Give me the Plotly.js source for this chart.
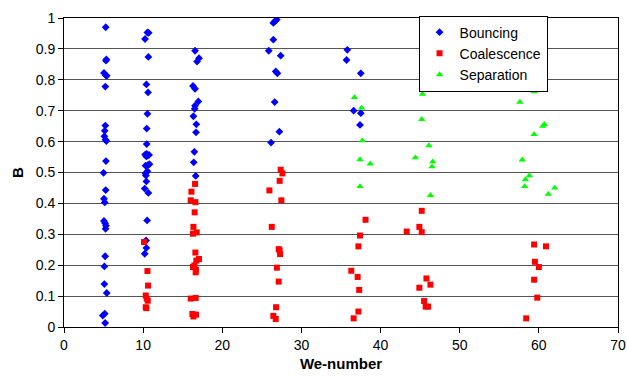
<!DOCTYPE html>
<html>
<head>
<meta charset="utf-8">
<script src="https://cdn.plot.ly/plotly-3.0.1.min.js"></script>
<style>
html,body{margin:0;padding:0;background:#fff;}
#chart{width:627px;height:381px;}
</style>
</head>
<body>
<div id="chart"></div>
<script>
// Bouncing
const bouncingWe = [
  5.27,5.35,5.30,5.05,5.27,5.40,5.22,5.22,5.15,5.10,5.25,5.35,5.30,5.00,5.27,5.05,5.15,5.05,5.20,5.30,5.25,5.20,5.10,5.10,5.40,4.90,5.15,5.20,
  10.54,10.70,10.24,10.66,10.41,10.62,10.54,10.45,10.45,10.25,10.45,10.60,10.75,10.40,10.30,10.62,10.80,10.54,10.30,10.35,10.41,10.20,10.66,10.50,10.37,10.41,10.20,
  16.56,17.06,16.81,16.30,16.56,16.98,16.56,16.51,16.35,16.72,16.68,16.47,16.39,16.64,
  26.67,26.88,26.45,26.45,25.87,27.38,26.75,26.96,26.62,27.21,26.16,
  35.8,35.7,37.5,36.6,37.5,37.4
];
const bouncingB = [
  0.970,0.866,0.862,0.822,0.815,0.813,0.778,0.652,0.635,0.617,0.606,0.602,0.537,0.499,0.443,0.415,0.403,0.343,0.336,0.328,0.318,0.229,0.196,0.139,0.110,0.037,0.043,0.013,
  0.953,0.952,0.932,0.874,0.785,0.759,0.690,0.642,0.592,0.558,0.560,0.555,0.557,0.552,0.522,0.525,0.527,0.504,0.497,0.490,0.471,0.448,0.434,0.345,0.280,0.256,0.237,
  0.894,0.870,0.859,0.780,0.771,0.730,0.716,0.706,0.682,0.656,0.630,0.567,0.533,0.489,
  0.990,0.995,0.984,0.930,0.894,0.878,0.827,0.821,0.728,0.632,0.597,
  0.897,0.864,0.821,0.700,0.692,0.654
];
// Coalescence
const coalescenceWe = [
  10.11,10.54,10.62,10.33,10.45,10.58,10.33,10.41,
  16.56,16.10,16.01,16.60,16.51,16.35,16.30,16.77,16.60,17.06,16.72,16.47,16.30,16.68,16.64,16.01,16.64,16.22,16.68,16.35,
  27.38,27.6,27.25,25.95,27.46,26.25,27.13,27.25,27.3,26.9,27.13,26.8,26.45,26.75,
  38.1,37.4,37.2,36.3,37.1,37.3,37.2,36.6,43.3,
  45.2,44.9,45.2,45.8,44.9,46.3,45.5,45.7,46.0,
  59.4,60.9,59.5,60.0,59.4,59.8,58.4
];
const coalescenceB = [
  0.275,0.181,0.134,0.102,0.092,0.085,0.064,0.061,
  0.463,0.438,0.410,0.404,0.371,0.324,0.302,0.306,0.241,0.220,0.215,0.199,0.194,0.185,0.177,0.092,0.094,0.042,0.040,0.034,
  0.509,0.497,0.473,0.442,0.410,0.324,0.252,0.248,0.236,0.192,0.147,0.064,0.036,0.026,
  0.347,0.296,0.261,0.182,0.162,0.120,0.050,0.028,0.309,
  0.376,0.324,0.307,0.157,0.127,0.137,0.084,0.066,0.066,
  0.267,0.261,0.211,0.194,0.153,0.095,0.028
];
// Separation
const separationWe = [
  36.7,37.6,37.7,37.4,38.7,37.4,
  45.3,45.2,46.1,44.4,46.6,46.5,46.3,
  59.4,57.6,60.7,60.5,59.4,57.9,58.8,58.3,58.2,62.0,61.2
];
const separationB = [
  0.743,0.709,0.603,0.542,0.528,0.455,
  0.754,0.672,0.587,0.548,0.535,0.519,0.426,
  0.762,0.728,0.656,0.650,0.623,0.541,0.490,0.477,0.455,0.450,0.430
];
const seriesNames = ["Bouncing","Coalescence","Separation"];
const xTicks = [0,10,20,30,40,50,60,70];
const yTicks = [0,0.1,0.2,0.3,0.4,0.5,0.6,0.7,0.8,0.9,1];
const yTickText = ["0","0.1","0.2","0.3","0.4","0.5","0.6","0.7","0.8","0.9","1"];

const traces = [
  {x: bouncingWe, y: bouncingB, name: seriesNames[0], type:'scatter', mode:'markers',
   marker:{symbol:'diamond', size:6, color:'#0000FF'}},
  {x: coalescenceWe, y: coalescenceB, name: seriesNames[1], type:'scatter', mode:'markers',
   marker:{symbol:'square', size:6, color:'#FF0000'}},
  {x: separationWe, y: separationB, name: seriesNames[2], type:'scatter', mode:'markers',
   marker:{symbol:'triangle-up', size:6.5, color:'#00FF00'}}
];

const layout = {
  width:627, height:381,
  margin:{l:64, r:9, t:18, b:54},
  paper_bgcolor:'#fff', plot_bgcolor:'#fff',
  font:{family:'"Liberation Sans", Arial, sans-serif', size:14, color:'#000'},
  showlegend:true,
  legend:{x:0.64, y:1.008, xanchor:'left', yanchor:'top', bgcolor:'#fff',
          bordercolor:'#000', borderwidth:1, font:{size:14}},
  xaxis:{range:[0,70], tickvals:xTicks, ticks:'outside', ticklen:5, tickcolor:'#000',
         showline:true, linecolor:'#000', linewidth:1, mirror:true, showgrid:false, zeroline:false,
         title:{text:'<b>We-number</b>', font:{size:15}, standoff:6}},
  yaxis:{range:[0,1], tickvals:yTicks, ticktext:yTickText, ticks:'outside', ticklen:5, tickcolor:'#000',
         showline:true, linecolor:'#000', linewidth:1, mirror:true, showgrid:true, gridcolor:'#555555', gridwidth:1,
         zeroline:false, title:{text:'<b>B</b>', font:{size:15}, standoff:8}},
  hovermode:false
};
Plotly.newPlot('chart', traces, layout, {displayModeBar:false, staticPlot:true});
</script>
</body>
</html>
